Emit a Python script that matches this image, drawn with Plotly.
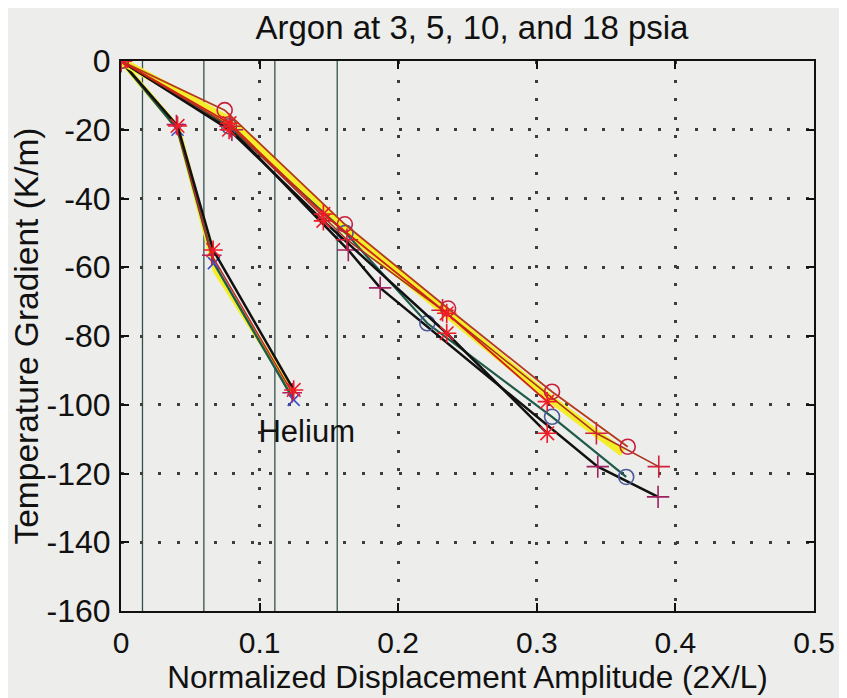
import plotly.graph_objects as go

# --- data -----------------------------------------------------------------
x_ticks = [0, 0.1, 0.2, 0.3, 0.4, 0.5]
x_tick_text = ["0", "0.1", "0.2", "0.3", "0.4", "0.5"]
y_ticks = [0, -20, -40, -60, -80, -100, -120, -140, -160]
y_tick_text = ["0", "-20", "-40", "-60", "-80", "-100", "-120", "-140", "-160"]

# vertical reference lines
ref_x = [0.0155, 0.0598, 0.111, 0.156]

# helium runs
he_x1 = [0, 0.0408, 0.0665, 0.1246]
he_y1 = [0, -18.9, -55.0, -95.7]
he_x2 = [0, 0.0408, 0.0670, 0.1246]
he_y2 = [0, -20.0, -58.8, -98.6]
he_x3 = [0, 0.0412, 0.0680, 0.1250]
he_y3 = [0, -19.5, -61.0, -97.0]
he_x4 = [0, 0.0400, 0.0655, 0.1235]
he_y4 = [0, -18.5, -56.5, -96.5]

# argon runs
ar_star_up_x = [0, 0.0783, 0.1460, 0.2350, 0.3075]
ar_star_up_y = [0, -18.1, -44.5, -73.4, -99.1]
ar_star_lo_x = [0, 0.0780, 0.1460, 0.2350, 0.3075]
ar_star_lo_y = [0, -20.0, -46.5, -79.2, -108.3]
ar_plus_up_x = [0, 0.0790, 0.1630, 0.2320, 0.3430, 0.3880]
ar_plus_up_y = [0, -19.0, -52.0, -72.5, -108.3, -118.0]
ar_plus_lo_x = [0, 0.0800, 0.1640, 0.1870, 0.3440, 0.3875]
ar_plus_lo_y = [0, -20.0, -55.0, -66.0, -118.0, -126.8]
ar_circ_up_x = [0, 0.0748, 0.1615, 0.2360, 0.3110, 0.3656]
ar_circ_up_y = [0, -14.3, -47.5, -72.0, -96.2, -112.2]
ar_circ_lo_x = [0, 0.0780, 0.1620, 0.2210, 0.3110, 0.3645]
ar_circ_lo_y = [0, -19.0, -50.0, -76.3, -103.5, -121.0]
ar_yel_x = [0, 0.0770, 0.1630, 0.2300, 0.3090, 0.3620]
ar_yel_y = [0, -17.0, -49.5, -71.5, -98.0, -114.0]

label_x = [0.134]
label_y = [-108.5]
label_text = ["Helium"]

BG = "#ededeb"
INK = "#111111"
FONT = "Liberation Sans, Arial, sans-serif"

fig = go.Figure()

for xv in ref_x:
    fig.add_vline(x=xv, line_color="#34524d", line_width=1.3, layer="below")


def run(x, y, line_color, width, symbol=None, mcolor=None, msize=13):
    mode = "lines+markers" if symbol else "lines"
    marker = dict(symbol=symbol, size=msize, color=mcolor,
                  line=dict(color=mcolor, width=1.6)) if symbol else None
    fig.add_trace(go.Scatter(x=x, y=y, mode=mode,
                             line=dict(color=line_color, width=width),
                             marker=marker, showlegend=False))


# helium
run(he_x3, he_y3, "#f4ee2a", 5)
run(he_x2, he_y2, "#1f5a4a", 2.5, "x-thin-open", "#3b4fcf", 12)
run(he_x4, he_y4, "#c0282a", 1.5, "cross-thin-open", "#b0205a", 14)
run(he_x1, he_y1, INK, 2.5, "asterisk-open", "#ee1c24", 16)

# argon
run(ar_yel_x, ar_yel_y, "#f4ee2a", 8)
run(ar_plus_lo_x, ar_plus_lo_y, INK, 2.5, "cross-thin-open", "#a02060", 16)
run(ar_circ_lo_x, ar_circ_lo_y, "#1f5a4a", 2.2, "circle-open", "#4a5a9a", 15)
run(ar_star_lo_x, ar_star_lo_y, INK, 2.5, "asterisk-open", "#ee1c24", 16)
run(ar_plus_up_x, ar_plus_up_y, "#a8321c", 1.6, "cross-thin-open", "#d0203a", 16)
run(ar_circ_up_x, ar_circ_up_y, "#b33a1a", 1.8, "circle-open", "#c81e3c", 15)
run(ar_star_up_x, ar_star_up_y, "#d0201a", 1.8, "asterisk-open", "#ee1c24", 16)

fig.add_trace(go.Scatter(x=label_x, y=label_y, mode="text", text=label_text,
                         textfont=dict(size=31, color=INK, family=FONT),
                         showlegend=False))

common = dict(showgrid=True, gridcolor="#3d3d3d", gridwidth=3,
              griddash="3px,15.5px", zeroline=False, showline=True,
              linecolor=INK, linewidth=2, mirror="ticks",
              ticks="inside", ticklen=8, tickcolor=INK, tickwidth=1.5)

fig.update_xaxes(range=[0, 0.5], tickvals=x_ticks, ticktext=x_tick_text,
                 ticklabelstandoff=4,
                 tickfont=dict(size=30, color=INK, family=FONT),
                 title=dict(text="Normalized Displacement Amplitude (2X/L)",
                            font=dict(size=31.5, color=INK, family=FONT),
                            standoff=2),
                 **common)
fig.update_yaxes(range=[-160, 0], tickvals=y_ticks, ticktext=y_tick_text,
                 ticklabelstandoff=2,
                 tickfont=dict(size=32, color=INK, family=FONT),
                 title=dict(text="Temperature Gradient (K/m)",
                            font=dict(size=33.5, color=INK, family=FONT),
                            standoff=3),
                 **common)

# the page body adds an 8px margin, so the figure is sized to fit inside it
fig.update_layout(
    width=839, height=690,
    paper_bgcolor=BG, plot_bgcolor=BG,
    margin=dict(l=112, r=25, t=53, b=87),
    title=dict(text="Argon at 3, 5, 10, and 18 psia", x=0.553, xanchor="center",
               y=0.9725, yanchor="middle",
               font=dict(size=33, color=INK, family=FONT)),
    showlegend=False,
)

fig.write_html("out.html")
